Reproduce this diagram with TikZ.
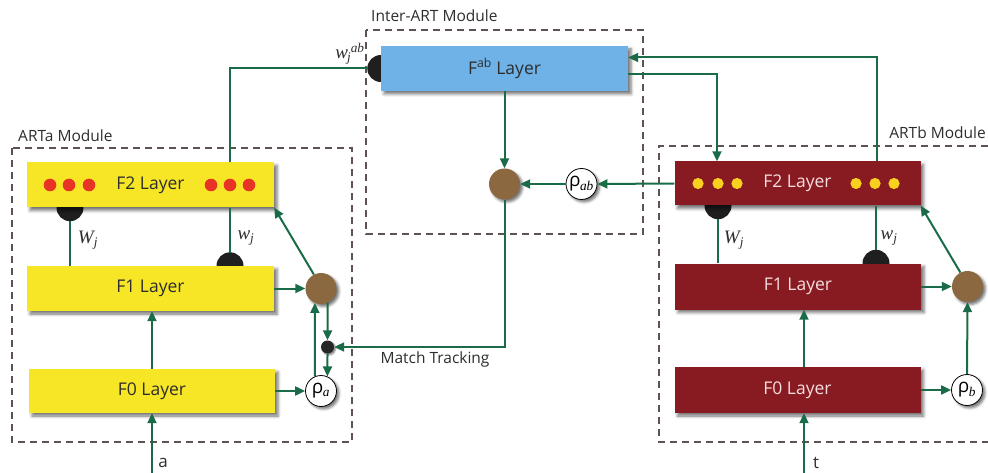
\documentclass[tikz,border=0pt]{standalone}
\usepackage{fontspec}
\setmainfont{Open Sans}
\newfontfamily\lblfont{Liberation Serif}
\usetikzlibrary{arrows.meta,shadows,shadows.blur,backgrounds}

\definecolor{layerYellow}{RGB}{247,230,38}
\definecolor{layerRed}{RGB}{136,26,34}
\definecolor{layerBlue}{RGB}{110,178,232}
\definecolor{nodeBrown}{RGB}{140,104,64}
\definecolor{linkGreen}{RGB}{26,108,72}
\definecolor{dotRed}{RGB}{232,52,36}
\definecolor{dotYellow}{RGB}{250,208,32}
\definecolor{textDark}{RGB}{45,45,45}
\definecolor{textPink}{RGB}{246,222,222}
\definecolor{frameGray}{RGB}{95,82,82}

% italic serif weight labels
\newcommand{\wlbl}[2]{{\lblfont\itshape #1\textsubscript{#2}}}
\newcommand{\wablbl}{{\lblfont\itshape w\kern-1pt\textsubscript{j}\kern-0.5pt\textsuperscript{ab}}}
\newcommand{\vigsub}[1]{ρ\kern-0.5pt\textsubscript{\lblfont\itshape #1}}

\begin{document}
\begin{tikzpicture}[x=1pt,y=-1pt,
  layer/.style={rectangle, minimum width=247pt, minimum height=45pt, inner sep=0pt,
    font=\fontsize{17.5}{19}\selectfont,
    blur shadow={shadow xshift=3pt, shadow yshift=-3pt, shadow blur radius=3pt, shadow opacity=55}},
  ylayer/.style={layer, fill=layerYellow, text=textDark},
  rlayer/.style={layer, fill=layerRed, text=textPink},
  blayer/.style={layer, fill=layerBlue, text=textDark},
  gain/.style={circle, fill=nodeBrown, minimum size=31pt, inner sep=0pt,
    blur shadow={shadow xshift=2.5pt, shadow yshift=-2.5pt, shadow blur radius=2.5pt, shadow opacity=55}},
  vig/.style={circle, draw=black, line width=0.8pt, fill=white, minimum size=31pt, inner sep=0pt,
    font=\fontsize{19}{19}\selectfont,
    blur shadow={shadow xshift=2.5pt, shadow yshift=-2.5pt, shadow blur radius=2.5pt, shadow opacity=55}},
  junction/.style={circle, fill=black!85, minimum size=13pt, inner sep=0pt,
    blur shadow={shadow xshift=1.5pt, shadow yshift=-1.5pt, shadow blur radius=1.5pt, shadow opacity=50}},
  link/.style={line width=2pt, draw=linkGreen},
  arr/.style={link, -{Triangle[length=10pt,width=9pt]}},
  module/.style={draw=frameGray, dash pattern=on 7pt off 5pt, line width=1.1pt},
  modlbl/.style={font=\fontsize{15.5}{17}\selectfont, text=textDark, inner sep=0pt},
  mlbl/.style={font=\fontsize{19}{21}\selectfont, text=textDark, inner sep=0pt},
  inlbl/.style={font=\fontsize{17}{19}\selectfont, text=textDark, inner sep=0pt},
  synapse/.style={fill=black!88}
]
\useasboundingbox (0,0) rectangle (988,473);

% module frames
\draw[module] (12,148) rectangle (352,442);
\draw[module] (366,30) rectangle (643,234);
\draw[module] (988,146) -- (659,146) -- (659,442) -- (988,442);
\node[modlbl, anchor=west] (labA) at (18,136) {ARTa Module};
\node[modlbl, anchor=west] (labI) at (371,16) {Inter-ART Module};
\node[modlbl, anchor=east] (labB) at (986,133) {ARTb Module};

% ---------------- ARTa ----------------
\node[ylayer] (a2) at (150.5,185) {F2 Layer};
\node[ylayer] (a1) at (150.5,288.5) {F1 Layer};
\node[ylayer, minimum width=246pt, minimum height=44pt] (a0) at (152,391) {F0 Layer};
\node[gain] (ca) at (321,288.5) {};
\node[junction] (da) at (327.5,347) {};
\node[vig] (ra) at (321,391) {\vigsub{a}};
\foreach \x in {50,69,89,211,230,249} \fill[dotRed] (\x,185) circle (6.3);

% ---------------- Inter-ART ----------------
\node[blayer] (fab) at (504.5,68.5) {F\textsuperscript{ab} Layer};
\node[gain] (cab) at (504.5,184) {};
\node[vig] (rab) at (581.5,184) {\vigsub{ab}};

% ---------------- ARTb ----------------
\node[rlayer, minimum width=246pt, minimum height=44pt] (b2) at (797.5,183.5) {F2 Layer};
\node[rlayer, minimum width=246pt, minimum height=46pt] (b1) at (798,286.5) {F1 Layer};
\node[rlayer, minimum width=246pt, minimum height=46pt] (b0) at (797.5,390) {F0 Layer};
\node[gain] (cb) at (967.5,286.5) {};
\node[vig] (rb) at (967,390) {\vigsub{b}};
\foreach \x in {698,718,737,856,875,894} \fill[dotYellow] (\x,183.5) circle (5.6);

% helper coordinates for vertical wires
\coordinate (xWa) at (70,0);
\coordinate (xwa) at (230,0);
\coordinate (xWb) at (718,0);
\coordinate (xwb) at (876,0);
\coordinate (ina) at (152,473);
\coordinate (inb) at (804,473);
\coordinate (xup) at (877,0);
\coordinate (yup) at (0,57.5);
\coordinate (xdown) at (717,0);
\coordinate (ydown) at (0,74);

% synapse markers (half hidden behind the layers)
\begin{pgfonlayer}{background}
  \fill[synapse] (a2.south -| xWa) circle (13.5);
  \fill[synapse] (a1.north -| xwa) circle (13.5);
  \fill[synapse] (b2.south -| xWb) circle (13.5);
  \fill[synapse] (b1.north -| xwb) circle (13.5);
  \fill[synapse] (fab.west) circle (13.5);
\end{pgfonlayer}

% ARTa wiring
\draw[link, shorten <=13pt] (a2.south -| xWa) -- (a1.north -| xWa);
\draw[link, shorten >=13pt] (a2.south -| xwa) -- (a1.north -| xwa);
\node[mlbl] (lWa) at (88,240) {\wlbl{W}{j}};
\node[mlbl] (lwa) at (246,238) {\wlbl{w}{j}};
\draw[arr] (ina) -- (ina |- a0.south);
\node[inlbl] (la) at (163,463) {a};
\draw[arr] (a0.north -| ina) -- (a1.south -| ina);
\draw[arr] (a1.east) -- (ca.west);
\draw[arr] (a0.east) -- (ra.west);
\draw[arr] (ca.117) -- (a2.south east);
\draw[arr] (ca.-65) -- (da.north);
\draw[arr] (da.south) -- (ra.66);
\draw[arr] (ra.113) -- (ca.-113);

% ARTa F2 to the map field
\draw[link, shorten >=13pt] (a2.north -| xwa) |- (fab.west);
\node[mlbl] (lwab) at (350,54) {\wablbl};

% Inter-ART wiring
\draw[arr] (fab.south) -- (cab.north);
\draw[arr] (b2.west) -- (rab.east);
\draw[arr] (rab.west) -- (cab.east);
\draw[arr] (cab.south) |- (da.east);
\node[modlbl] (lmt) at (435,359) {Match Tracking};
\draw[arr] (b2.north -| xup) |- (fab.east |- yup);
\draw[arr] (fab.east |- ydown) -| (b2.north -| xdown);

% ARTb wiring
\draw[link, shorten <=13pt] (b2.south -| xWb) -- (b1.north -| xWb);
\draw[link, shorten >=13pt] (b2.south -| xwb) -- (b1.north -| xwb);
\node[mlbl] (lWb) at (734,240) {\wlbl{W}{j}};
\node[mlbl] (lwb) at (889,238) {\wlbl{w}{j}};
\draw[arr] (inb) -- (inb |- b0.south);
\node[inlbl] (lt) at (816,463) {t};
\draw[arr] (b0.north -| inb) -- (b1.south -| inb);
\draw[arr] (b1.east) -- (cb.west);
\draw[arr] (b0.east) -- (rb.west);
\draw[arr] (rb.north) -- (cb.south);
\draw[arr] (cb.117) -- (b2.south east);
\end{tikzpicture}
\end{document}
